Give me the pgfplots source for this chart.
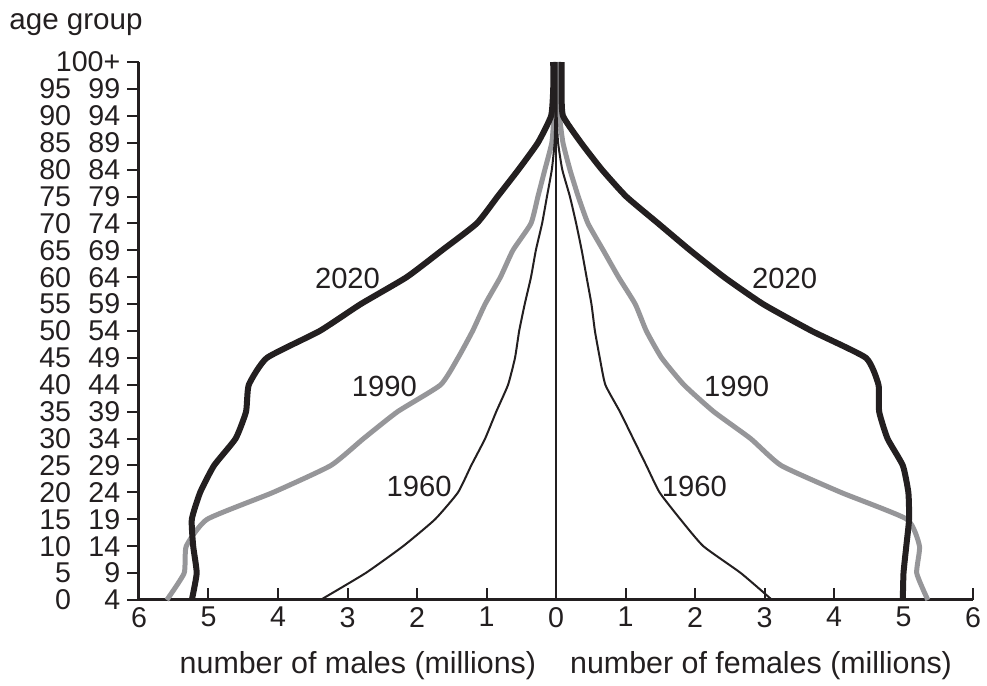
\documentclass[border=0pt]{standalone}
\usepackage{fontspec}
\setmainfont{Liberation Sans}
\usepackage{pgfplots}
\pgfplotsset{compat=1.18}
\definecolor{ink}{RGB}{35,31,32}
\definecolor{gr}{RGB}{150,150,153}
\newcommand\ag[2]{\makebox[1.12em][r]{#1}\hspace{0.6em}\makebox[1.12em][r]{#2}}
\begin{document}
\begin{tikzpicture}
\useasboundingbox (-69.5pt,-43pt) rectangle (424pt,300pt);
\begin{axis}[at={(0,0)}, anchor=south west, scale only axis, width=417pt, height=269pt,
  xmin=-6, xmax=6, ymin=0, ymax=20, clip=false,
  axis x line=bottom, axis y line=left,
  axis line style={-, line width=1.5pt, color=ink},
  xtick={-6,...,6}, xticklabels={6,5,4,3,2,1,0,1,2,3,4,5,6},
  ytick={0,...,20},
  yticklabels={\ag{0}{4},\ag{5}{9},\ag{10}{14},\ag{15}{19},\ag{20}{24},\ag{25}{29},\ag{30}{34},\ag{35}{39},\ag{40}{44},\ag{45}{49},\ag{50}{54},\ag{55}{59},\ag{60}{64},\ag{65}{69},\ag{70}{74},\ag{75}{79},\ag{80}{84},\ag{85}{89},\ag{90}{94},\ag{95}{99},100+},
  tick align=inside, major tick length=5.8pt,
  tick style={line width=1pt, color=ink},
  y tick style={xshift=-5.8pt},
  tick label style={font=\fontsize{14.3}{16}\selectfont, text=ink},
  yticklabel style={xshift=-5.8pt},
]
\addplot[ink, line width=0.7pt] coordinates {(0,0) (0,20)};
% 1990
\addplot[gr, line width=2.5pt, line join=round, smooth, tension=0.3] coordinates {
(-5.60,0) (-5.35,1) (-5.32,2) (-5.02,3) (-4.07,4) (-3.24,5) (-2.77,6) (-2.28,7) (-1.66,8) (-1.41,9) (-1.20,10) (-1.02,11) (-0.80,12) (-0.62,13) (-0.36,14) (-0.26,15) (-0.16,16) (-0.06,17) (-0.03,18) (-0.03,19) (-0.03,20)};
\addplot[gr, line width=2.5pt, line join=round, smooth, tension=0.3] coordinates {
(5.35,0) (5.19,1) (5.23,2) (5.05,3) (4.10,4) (3.24,5) (2.80,6) (2.27,7) (1.84,8) (1.52,9) (1.30,10) (1.14,11) (0.90,12) (0.68,13) (0.46,14) (0.32,15) (0.20,16) (0.10,17) (0.05,18) (0.04,19) (0.04,20)};
% 2020
\addplot[ink, line width=3pt, line join=round, smooth, tension=0.3] coordinates {
(-5.24,0) (-5.17,1) (-5.22,2) (-5.24,3) (-5.12,4) (-4.92,5) (-4.61,6) (-4.46,7) (-4.42,8) (-4.16,9) (-3.40,10) (-2.81,11) (-2.15,12) (-1.64,13) (-1.14,14) (-0.84,15) (-0.54,16) (-0.26,17) (-0.07,18) (-0.04,19) (-0.04,20)};
\addplot[ink, line width=3pt, line join=round, smooth, tension=0.3] coordinates {
(4.99,0) (5.00,1) (5.04,2) (5.08,3) (5.07,4) (4.99,5) (4.77,6) (4.65,7) (4.64,8) (4.46,9) (3.68,10) (2.98,11) (2.42,12) (1.93,13) (1.47,14) (1.01,15) (0.66,16) (0.36,17) (0.10,18) (0.08,19) (0.08,20)};
% 1960
\addplot[ink, line width=1pt, line join=round, smooth, tension=0.3] coordinates {
(-3.39,0) (-2.74,1) (-2.20,2) (-1.74,3) (-1.41,4) (-1.22,5) (-1.02,6) (-0.86,7) (-0.69,8) (-0.59,9) (-0.53,10) (-0.45,11) (-0.36,12) (-0.29,13) (-0.20,14) (-0.13,15) (-0.06,16) (-0.02,17) (-0.01,18) (-0.01,19) (-0.01,20)};
\addplot[ink, line width=1pt, line join=round, smooth, tension=0.3] coordinates {
(3.11,0) (2.66,1) (2.12,2) (1.79,3) (1.49,4) (1.30,5) (1.11,6) (0.92,7) (0.71,8) (0.63,9) (0.56,10) (0.51,11) (0.44,12) (0.37,13) (0.29,14) (0.20,15) (0.09,16) (0.03,17) (0.01,18) (0.01,19) (0.01,20)};
% labels
\begin{scope}[every node/.style={font=\fontsize{14.6}{17}\selectfont, text=ink}]
\node at (axis cs:-3.0,11.95) {2020};
\node at (axis cs:3.29,11.95) {2020};
\node at (axis cs:-2.47,7.93) {1990};
\node at (axis cs:2.6,7.93) {1990};
\node at (axis cs:-1.97,4.21) {1960};
\node at (axis cs:1.99,4.21) {1960};
\end{scope}
\node[font=\fontsize{15.2}{18}\selectfont, text=ink] at (axis cs:-2.85,0) [yshift=-33pt] {number of males (millions)};
\node[font=\fontsize{15.2}{18}\selectfont, text=ink] at (axis cs:2.95,0) [yshift=-33pt] {number of females (millions)};
\node[font=\fontsize{14.8}{18}\selectfont, text=ink] at (rel axis cs:0,1) [xshift=-31.5pt, yshift=18.5pt] {age group};
\end{axis}
\end{tikzpicture}
\end{document}
